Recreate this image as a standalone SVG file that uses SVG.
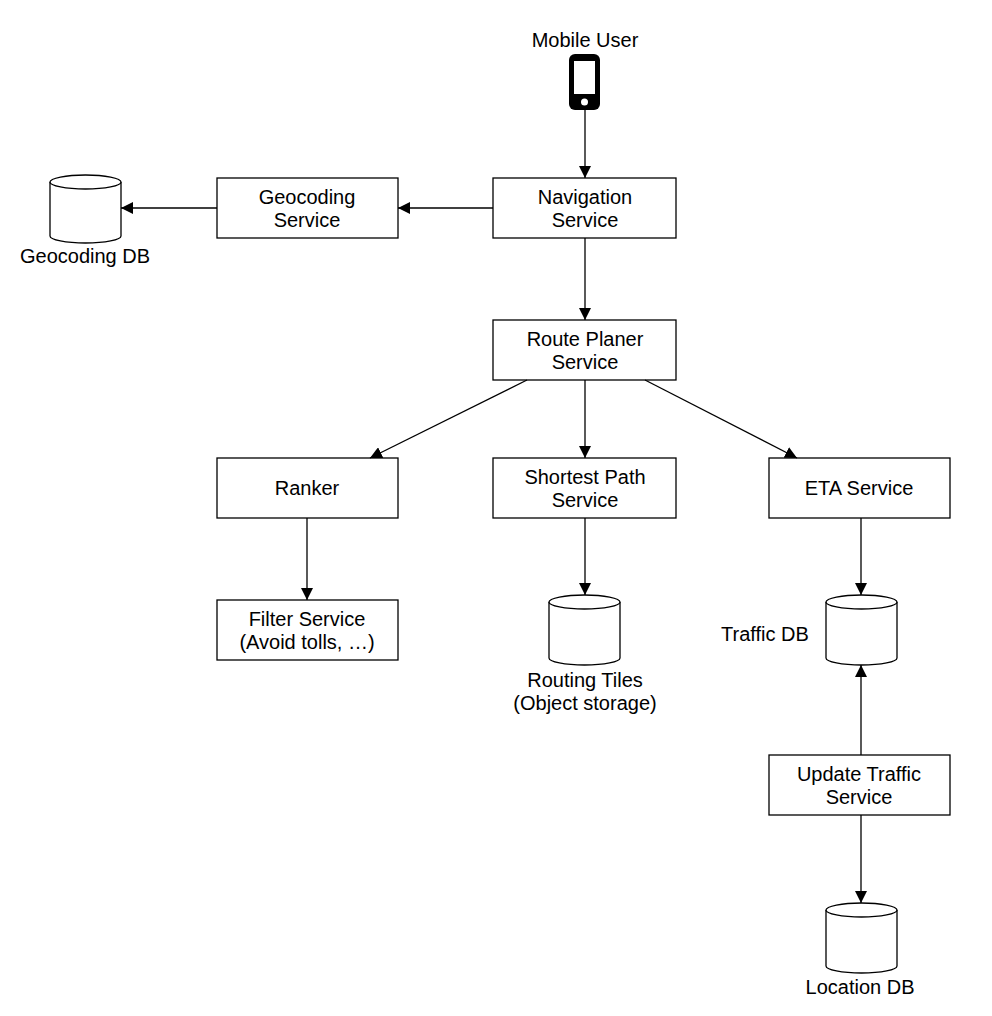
<svg xmlns="http://www.w3.org/2000/svg" width="992" height="1016" viewBox="0 0 992 1016">
<style>
.b{fill:#fff;stroke:#000;stroke-width:1.3}
text{font-family:"Liberation Sans",Arial,sans-serif;font-size:20px;fill:#000;text-anchor:middle}
.c{stroke:#000;stroke-width:1.3;fill:none;marker-end:url(#a)}
</style>
<defs>
<marker id="a" viewBox="0 0 10 10" refX="10" refY="5" markerWidth="12" markerHeight="12" markerUnits="userSpaceOnUse" orient="auto"><path d="M0,0L10,5L0,10z" fill="#000"/></marker>
</defs>
<rect width="992" height="1016" fill="#fff"/>
<g id="mobile">
<text x="585" y="47">Mobile User</text>
<rect x="569" y="54" width="31" height="56" rx="6" fill="#000"/>
<rect x="574" y="61" width="21" height="33" fill="#fff"/>
<circle cx="584.5" cy="102" r="3.5" fill="#fff"/>
</g>
<g id="nav"><rect class="b" x="493" y="178" width="183" height="60"/><text x="585" y="204">Navigation</text><text x="585" y="227">Service</text></g>
<g id="geo"><rect class="b" x="217" y="178" width="181" height="60"/><text x="307" y="204">Geocoding</text><text x="307" y="227">Service</text></g>
<g id="geodb"><path class="b" d="M50,182v54a35.5,7 0 0 0 71,0v-54"/><ellipse class="b" cx="85.5" cy="182" rx="35.5" ry="7"/><text x="85" y="263">Geocoding DB</text></g>
<g id="route"><rect class="b" x="493" y="320" width="183" height="60"/><text x="585" y="346">Route Planer</text><text x="585" y="369">Service</text></g>
<g id="ranker"><rect class="b" x="217" y="458" width="181" height="60"/><text x="307" y="495">Ranker</text></g>
<g id="shortest"><rect class="b" x="493" y="458" width="183" height="60"/><text x="585" y="484">Shortest Path</text><text x="585" y="507">Service</text></g>
<g id="eta"><rect class="b" x="769" y="458" width="181" height="60"/><text x="859" y="495">ETA Service</text></g>
<g id="filter"><rect class="b" x="217" y="600" width="181" height="60"/><text x="307" y="626">Filter Service</text><text x="307" y="649">(Avoid tolls, …)</text></g>
<g id="tiles"><path class="b" d="M549,602v56a35.5,7 0 0 0 71,0v-56"/><ellipse class="b" cx="584.5" cy="602" rx="35.5" ry="7"/><text x="585" y="687">Routing Tiles</text><text x="585" y="710">(Object storage)</text></g>
<g id="traffic"><path class="b" d="M826,602v56a35.5,7 0 0 0 71,0v-56"/><ellipse class="b" cx="861.5" cy="602" rx="35.5" ry="7"/><text x="765" y="641">Traffic DB</text></g>
<g id="update"><rect class="b" x="769" y="755" width="181" height="60"/><text x="859" y="781">Update Traffic</text><text x="859" y="804">Service</text></g>
<g id="locdb"><path class="b" d="M826,910v56a35.5,7 0 0 0 71,0v-56"/><ellipse class="b" cx="861.5" cy="910" rx="35.5" ry="7"/><text x="860" y="994">Location DB</text></g>
<g id="connectors">
<path class="c" d="M585,110V178"/>
<path class="c" d="M493,208H398"/>
<path class="c" d="M217,208H121"/>
<path class="c" d="M585,238V320"/>
<path class="c" d="M527,380L370,458"/>
<path class="c" d="M585,380V458"/>
<path class="c" d="M645,380L797,458"/>
<path class="c" d="M307,518V600"/>
<path class="c" d="M585,518V595"/>
<path class="c" d="M861,518V595"/>
<path class="c" d="M861,755V665"/>
<path class="c" d="M861,815V903"/>
</g>
</svg>
